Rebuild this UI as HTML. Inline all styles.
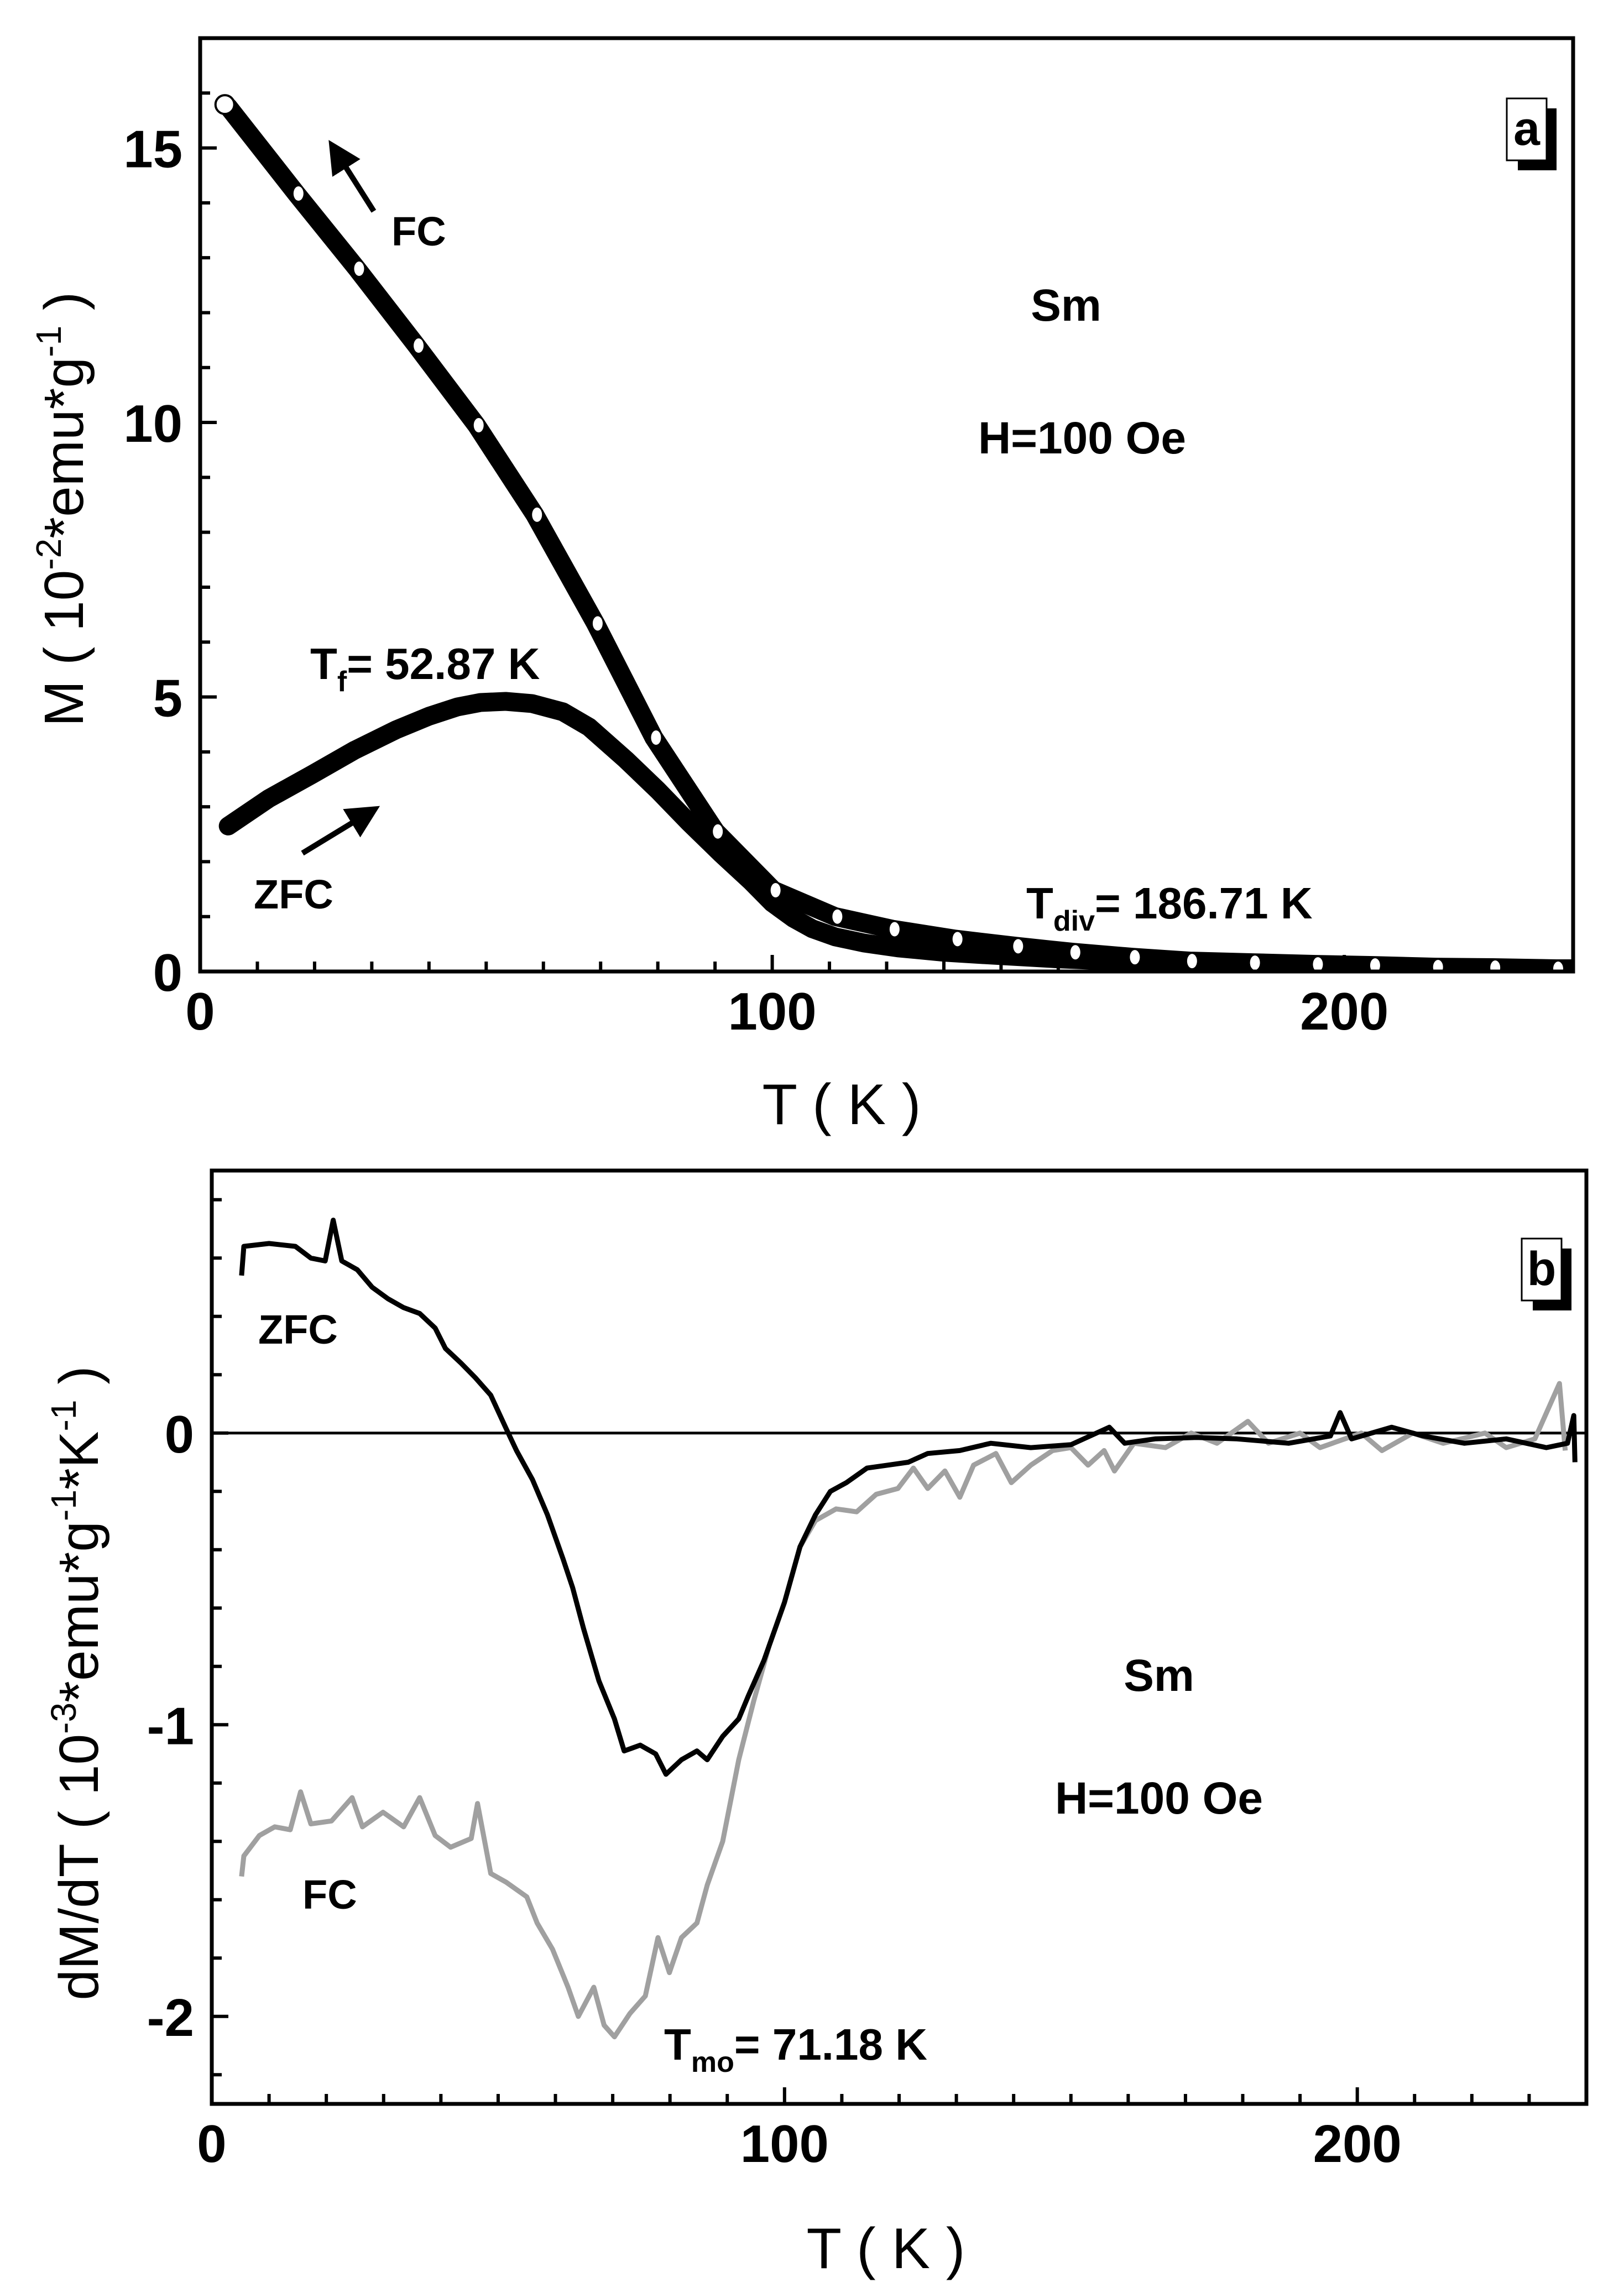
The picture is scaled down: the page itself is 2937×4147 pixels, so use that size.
<!DOCTYPE html>
<html><head><meta charset="utf-8"><style>
html,body{margin:0;padding:0;background:#fff}
svg{display:block}
text{font-family:"Liberation Sans",Arial,sans-serif}
</style></head><body>
<svg id="fig" width="2937" height="4147" viewBox="0 0 2937 4147" xmlns="http://www.w3.org/2000/svg">
<rect width="2937" height="4147" fill="#fff"/>
<g id="pa"></g>
<g id="pb"></g>
</svg>
<script>
// ---------- Panel a data ----------
const fcT = [4.9,16.8,27.4,37.8,48.3,58.5,69.1,79.3,90.1,100.2,111,121,132,142.6,152.6,163,173,184,195,205,216,226,237,240];
const fcM = [15.75,14.17,12.8,11.4,9.95,8.32,6.34,4.26,2.55,1.48,1.0,0.77,0.59,0.46,0.35,0.26,0.19,0.16,0.13,0.11,0.08,0.07,0.05,0.05];
const zfcT = [4.9,12,19.6,27,34.2,40,45,49,53.4,58,63.4,68,74.4,80,85.4,91,96.3,100,103.7,107,111,116,122,130,138,150,166,185,202,220,240];
const zfcM = [2.65,3.15,3.59,4.03,4.4,4.65,4.82,4.9,4.92,4.88,4.73,4.45,3.86,3.3,2.72,2.15,1.64,1.25,0.97,0.78,0.63,0.52,0.43,0.35,0.3,0.23,0.16,0.11,0.08,0.05,0.03];
const aXTicks = [0,100,200];
const aYTicks = [0,5,10,15];
// ---------- Panel b data ----------
const bzT = [5.2,5.6,10,14.6,17.3,19.8,21.2,22.7,25.4,28,30.8,33.5,36.3,39,40.8,43.5,46,48.7,51.4,53.2,56,58.6,61.3,63,64.9,67.6,70.3,72,74.8,77.5,79.3,82,84.7,86.5,89.2,92,93.7,96.4,100,102.7,105.4,108,110.8,114.4,118,121.6,125,130.6,136,143,150,156.7,159.4,164.7,172,179,188,195.3,197,199,206,211.5,218.7,226,233,236.7,237.8,238];
const bzV = [0.54,0.64,0.65,0.64,0.6,0.59,0.73,0.59,0.56,0.5,0.46,0.43,0.41,0.36,0.29,0.24,0.19,0.13,0.015,-0.06,-0.16,-0.28,-0.43,-0.53,-0.67,-0.85,-0.98,-1.09,-1.07,-1.1,-1.17,-1.12,-1.09,-1.12,-1.04,-0.98,-0.9,-0.78,-0.58,-0.39,-0.28,-0.2,-0.17,-0.12,-0.11,-0.1,-0.07,-0.06,-0.035,-0.05,-0.04,0.02,-0.035,-0.02,-0.015,-0.02,-0.035,-0.01,0.07,-0.02,0.02,-0.01,-0.035,-0.02,-0.05,-0.035,0.06,-0.1];
const bfT = [5.2,5.6,8.3,11,13.7,15.5,17.3,20.9,24.5,26.3,29.9,33.5,36.3,39,41.7,45.3,46.4,48.7,51.4,55,56.8,59.5,62.2,64,66.7,68.5,70.3,73,75.7,77.9,79.9,82,84.7,86.5,89.2,92,94.6,97.3,100,102.7,105.4,109,112.6,116,119.8,122.5,125,128,130.6,133,136.9,139.6,143,146.8,150,153,155.8,157.6,161,166.5,171,175.5,180.9,184.5,190,193.5,200.7,204.3,209.7,215,222.3,226,231,235.3,236.3];
const bfV = [-1.52,-1.45,-1.38,-1.35,-1.36,-1.23,-1.34,-1.33,-1.25,-1.35,-1.3,-1.35,-1.25,-1.38,-1.42,-1.39,-1.27,-1.51,-1.54,-1.59,-1.68,-1.77,-1.9,-2.0,-1.9,-2.03,-2.07,-1.99,-1.93,-1.73,-1.85,-1.73,-1.68,-1.55,-1.4,-1.12,-0.92,-0.73,-0.58,-0.39,-0.3,-0.26,-0.27,-0.21,-0.19,-0.12,-0.19,-0.13,-0.22,-0.11,-0.07,-0.17,-0.11,-0.06,-0.05,-0.11,-0.06,-0.13,-0.035,-0.05,0.0,-0.035,0.04,-0.035,0,-0.05,0,-0.06,0,-0.035,0,-0.05,-0.02,0.17,-0.06];
const bXTicks = [0,100,200];
const bYTicks = [-2,-1,0];

const NS="http://www.w3.org/2000/svg";
function mk(parent,tag,attrs,txt){const e=document.createElementNS(NS,tag);for(const k in attrs)e.setAttribute(k,attrs[k]);if(txt!==undefined)e.textContent=txt;parent.appendChild(e);return e;}

// axes a
const A={l:362,r:2845,t:69,b:1757,x0:0,x1:240,y0:0,y1:17};
const B={l:383,r:2869,t:2117,b:3805,x0:0,x1:240,y0:-2.3,y1:0.9};
function sx(P,v){return P.l+(v-P.x0)/(P.x1-P.x0)*(P.r-P.l);}
function sy(P,v){return P.b-(v-P.y0)/(P.y1-P.y0)*(P.b-P.t);}

function frame(g,P,xt,yt,yminor,ymajorStep){
  for(let t=P.x0;t<=P.x1;t+=10){
    const big=(t%100===0);
    const tk=mk(g,'line',{x1:sx(P,t),x2:sx(P,t),y1:P.b,y2:P.b-(big?30:18),stroke:'#000','stroke-width':6});
    
    
  }
  for(let v=Math.ceil(P.y0/yminor)*yminor;v<=P.y1+1e-9;v+=yminor){
    const big=Math.abs(v/ymajorStep-Math.round(v/ymajorStep))<1e-6;
    const tk=mk(g,'line',{x1:P.l,x2:P.l+(big?30:18),y1:sy(P,v),y2:sy(P,v),stroke:'#000','stroke-width':6});
    
    
  }
  const fr=mk(g,'rect',{x:P.l,y:P.t,width:P.r-P.l,height:P.b-P.t,fill:'none',stroke:'#000','stroke-width':7});
  
  
  xt.forEach(t=>{const e=mk(g,'text',{x:sx(P,t),y:P.b+105,'font-size':96,'font-weight':'bold','text-anchor':'middle'},String(t));
    
    });
  yt.forEach(t=>{const e=mk(g,'text',{x:P.l-32,y:sy(P,t)+35,'font-size':96,'font-weight':'bold','text-anchor':'end'},String(t));
    
    });
}
function path(P,xs,ys){return xs.map((x,i)=>(i?'L':'M')+sx(P,x).toFixed(1)+' '+sy(P,ys[i]).toFixed(1)).join(' ');}

// ---- Panel a ----
const ga=document.getElementById('pa');
const cp=mk(ga,'clipPath',{id:'ca'});mk(cp,'rect',{x:A.l,y:A.t,width:A.r-A.l,height:A.b-A.t});
const za=mk(ga,'path',{d:path(A,zfcT,zfcM),fill:'none',stroke:'#000','stroke-width':34,'stroke-linejoin':'round','stroke-linecap':'round','clip-path':'url(#ca)'});


const fa=mk(ga,'path',{d:path(A,fcT,fcM),fill:'none',stroke:'#000','stroke-width':34,'stroke-linejoin':'round','stroke-linecap':'round','clip-path':'url(#ca)'});


fcT.forEach((t,i)=>{ if(i===fcT.length-1) return;
  const c=mk(ga,'ellipse',{cx:sx(A,t)+(i===0?-6:4),cy:sy(A,fcM[i])+(i===0?-4:0),rx:i===0?17:9,ry:i===0?17:13,fill:'#fff',stroke:i===0?'#000':'none','stroke-width':4});
  
  
});
frame(ga,A,aXTicks,aYTicks,1,5);
</script>
<script>
// ---- Panel b ----
const gb=document.getElementById('pb');
const cpb=mk(gb,'clipPath',{id:'cb'});mk(cpb,'rect',{x:B.l,y:B.t,width:B.r-B.l,height:B.b-B.t});
const zl=mk(gb,'line',{x1:B.l,x2:B.r,y1:sy(B,0),y2:sy(B,0),stroke:'#000','stroke-width':5});


const fb=mk(gb,'path',{d:path(B,bfT,bfV),fill:'none',stroke:'#a0a0a0','stroke-width':9,'stroke-linejoin':'round','clip-path':'url(#cb)'});


const zb=mk(gb,'path',{d:path(B,bzT,bzV),fill:'none',stroke:'#000','stroke-width':9,'stroke-linejoin':'round','clip-path':'url(#cb)'});


frame(gb,B,bXTicks,bYTicks,0.2,1);
</script>
<svg style="position:absolute;left:0;top:0" width="2937" height="4147" viewBox="0 0 2937 4147" xmlns="http://www.w3.org/2000/svg">
<defs><marker id="ah" markerWidth="6" markerHeight="6" refX="4" refY="3" orient="auto"><path d="M0,0 L6,3 L0,6 z" fill="#000"/></marker></defs>
<!-- panel a annotations -->
<line x1="676" y1="382" x2="605" y2="270" stroke="#000" stroke-width="10" marker-end="url(#ah)"/>
<text x="708" y="444" font-size="74" font-weight="bold">FC</text>
<line x1="547" y1="1543" x2="670" y2="1468" stroke="#000" stroke-width="10" marker-end="url(#ah)"/>
<text x="459" y="1643" font-size="74" font-weight="bold">ZFC</text>
<text x="1928" y="580" font-size="82" font-weight="bold" text-anchor="middle">Sm</text>
<text x="1957" y="820" font-size="82" font-weight="bold" text-anchor="middle">H=100 Oe</text>
<text x="561" y="1228" font-size="80" font-weight="bold">T<tspan font-size="52" dy="22">f</tspan><tspan dy="-22">= 52.87 K</tspan></text>
<text x="1856" y="1661" font-size="80" font-weight="bold">T<tspan font-size="52" dy="22">div</tspan><tspan dy="-22">= 186.71 K</tspan></text>
<rect x="2745" y="196" width="70" height="112" fill="#000"/>
<rect x="2725" y="178" width="72" height="112" fill="#fff" stroke="#000" stroke-width="3"/>
<text x="2761" y="262" font-size="86" font-weight="bold" text-anchor="middle">a</text>
<text x="1522" y="2033" font-size="104" text-anchor="middle">T ( K )</text>
<text transform="translate(150,921) rotate(-90)" font-size="100" text-anchor="middle">M ( 10<tspan font-size="64" dy="-40">-2</tspan><tspan dy="40">*emu*g</tspan><tspan font-size="64" dy="-40">-1</tspan><tspan dy="40"> )</tspan></text>
<!-- panel b annotations -->
<text x="467" y="2430" font-size="74" font-weight="bold">ZFC</text>
<text x="547" y="3452" font-size="74" font-weight="bold">FC</text>
<text x="2096" y="3058" font-size="82" font-weight="bold" text-anchor="middle">Sm</text>
<text x="2096" y="3280" font-size="82" font-weight="bold" text-anchor="middle">H=100 Oe</text>
<text x="1201" y="3725" font-size="80" font-weight="bold">T<tspan font-size="52" dy="22">mo</tspan><tspan dy="-22">= 71.18 K</tspan></text>
<rect x="2772" y="2258" width="70" height="112" fill="#000"/>
<rect x="2752" y="2240" width="72" height="112" fill="#fff" stroke="#000" stroke-width="3"/>
<text x="2788" y="2324" font-size="86" font-weight="bold" text-anchor="middle">b</text>
<text x="1602" y="4102" font-size="104" text-anchor="middle">T ( K )</text>
<text transform="translate(177,3044) rotate(-90)" font-size="100" text-anchor="middle">dM/dT ( 10<tspan font-size="64" dy="-40">-3</tspan><tspan dy="40">*emu*g</tspan><tspan font-size="64" dy="-40">-1</tspan><tspan dy="40">*K</tspan><tspan font-size="64" dy="-40">-1</tspan><tspan dy="40"> )</tspan></text>
</svg>
</body></html>
